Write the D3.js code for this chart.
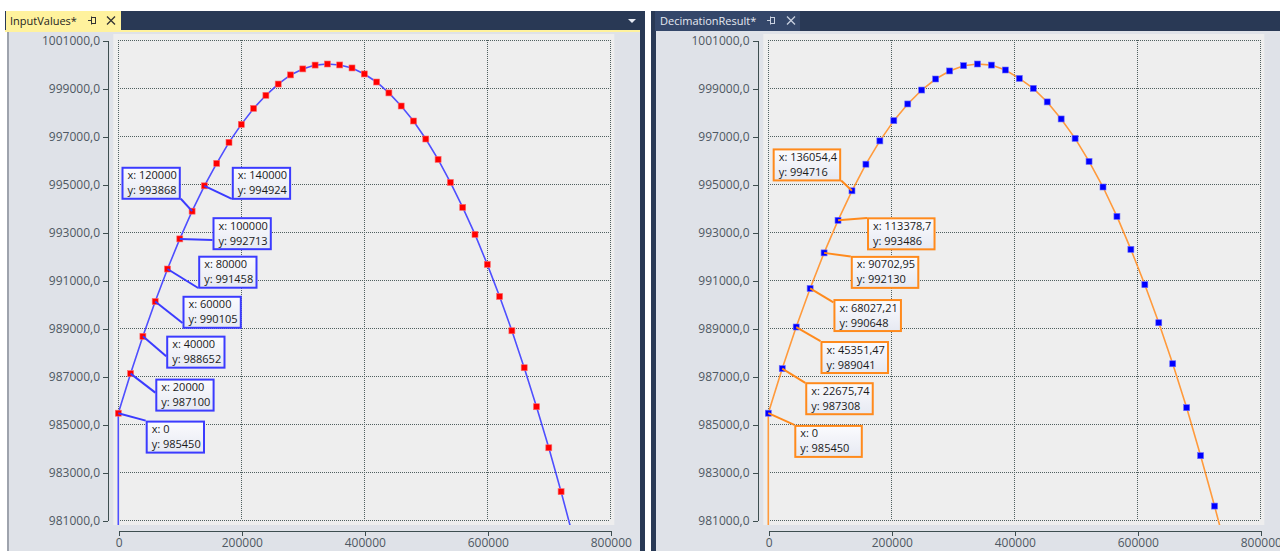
<!DOCTYPE html>
<html><head><meta charset="utf-8">
<script src="https://cdn.jsdelivr.net/npm/d3@7/dist/d3.min.js"></script>
<style>
html,body{margin:0;padding:0;background:#fff;overflow:hidden;}
svg{display:block;font-family:"Open Sans","Noto Sans",sans-serif;}
</style></head><body>
<svg id="c" width="1280" height="551"></svg>
<script>
// ---------- data ----------
const xTicks = [0, 200000, 400000, 600000, 800000];
const xTickLabels = ["0", "200000", "400000", "600000", "800000"];
const yTicks = [981000, 983000, 985000, 987000, 989000, 991000, 993000, 995000, 997000, 999000, 1001000];
const yTickLabels = ["981000,0", "983000,0", "985000,0", "987000,0", "989000,0", "991000,0", "993000,0", "995000,0", "997000,0", "999000,0", "1001000,0"];

// InputValues series (marked points)
const inputX = [0, 20000, 40000, 60000, 80000, 100000, 120000, 140000, 160000, 180000, 200000, 220000, 240000, 260000, 280000, 300000, 320000, 340000, 360000, 380000, 400000, 420000, 440000, 460000, 480000, 500000, 520000, 540000, 560000, 580000, 600000, 620000, 640000, 660000, 680000, 700000, 720000];
const inputY = [985450, 987100, 988652, 990105, 991458, 992713, 993868, 994924, 995860, 996735, 997485, 998150, 998695, 999165, 999545, 999795, 999955, 1000000, 999960, 999835, 999585, 999250, 998795, 998250, 997625, 996875, 996025, 995065, 994025, 992900, 991650, 990315, 988885, 987345, 985720, 984010, 982180];
// points of the line outside the visible range
const inputStart = [0, 975000];
const inputEnd = [740000, 980250];
const inputAnnotated = [0, 1, 2, 3, 4, 5, 6, 7];

// DecimationResult series
const decimX = [0, 22675.74, 45351.47, 68027.21, 90702.95, 113378.7, 136054.4, 158730.2, 181405.9, 204081.6, 226757.4, 249433.1, 272108.8, 294784.6, 317460.3, 340136.1, 362811.8, 385487.5, 408163.3, 430839, 453514.7, 476190.5, 498866.2, 521542, 544217.7, 566893.4, 589569.2, 612244.9, 634920.6, 657596.4, 680272.1, 702947.8, 725623.6];
const decimY = [985450, 987308, 989041, 990648, 992130, 993486, 994716, 995825, 996795, 997640, 998335, 998915, 999375, 999710, 999930, 1000000, 999955, 999750, 999400, 998985, 998420, 997710, 996900, 995940, 994875, 993650, 992275, 990805, 989220, 987510, 985680, 983680, 981580];
const decimStart = [0, 975000];
const decimEnd = [748299.3, 979380];
const decimAnnotated = [0, 1, 2, 3, 4, 5, 6];

// ---------- layout (pixels, not data) ----------
const inputAnnotLayout = [
  {dx: 27.4, dy: 7.4, ax: 0, ay: 0},
  {dx: 24.7, dy: 5, ax: 0, ay: 14},
  {dx: 23.3, dy: -0.7, ax: 0, ay: 20.7},
  {dx: 27.3, dy: -5.7, ax: 0, ay: 27.3},
  {dx: 30.7, dy: -13.3, ax: 0, ay: 32.3},
  {dx: 32.7, dy: -21.7, ax: 0, ay: 22.7},
  {dx: -70.6, dy: -44.4, ax: 59.3, ay: 32},
  {dx: 27.4, dy: -19, ax: 0, ay: 32}
];
const decimAnnotLayout = [
  {dx: 26, dy: 11.7, ax: 0, ay: 0},
  {dx: 23, dy: 13.6, ax: 0, ay: 0.7},
  {dx: 24.3, dy: 14, ax: 0, ay: 0},
  {dx: 23.3, dy: 10.6, ax: 0, ay: 3.3},
  {dx: 26.7, dy: 3, ax: 0, ay: 0.7},
  {dx: 29, dy: -3, ax: 0, ay: 0.7},
  {dx: -79.3, dy: -42.4, ax: 68.5, ay: 32}
];

const svg = d3.select("#c");
const NAVY = "#293955";

// ---------- IDE chrome ----------
svg.append("rect").attr("x", 0).attr("y", 0).attr("width", 1280).attr("height", 551).attr("fill", "#ffffff");
// left frame
svg.append("rect").attr("x", 5).attr("y", 11).attr("width", 640).attr("height", 540).attr("fill", NAVY);
svg.append("rect").attr("x", 7).attr("y", 32).attr("width", 633).attr("height", 519).attr("fill", "#DFE2E8");
svg.append("rect").attr("x", 5).attr("y", 30).attr("width", 635).attr("height", 2).attr("fill", "#FFF29D");
svg.append("rect").attr("x", 5).attr("y", 32).attr("width", 4).attr("height", 519).attr("fill", "#ffffff");
svg.append("rect").attr("x", 7).attr("y", 32).attr("width", 2).attr("height", 519).attr("fill", "#9EA3AD");
// left tab
svg.append("rect").attr("x", 6).attr("y", 11).attr("width", 115).attr("height", 21).attr("fill", "#FFF29D");
svg.append("text").attr("x", 10).attr("y", 25).attr("font-size", 11).attr("fill", "#1e1e1e").text("InputValues*");
function pin(x, y, col) {
  svg.append("line").attr("x1", x).attr("y1", y + 0.5).attr("x2", x + 3).attr("y2", y + 0.5).attr("stroke", col);
  svg.append("rect").attr("x", x + 3.5).attr("y", y - 2.5).attr("width", 4).attr("height", 6).attr("fill", "none").attr("stroke", col);
  svg.append("line").attr("x1", x + 3.5).attr("y1", y - 3.5).attr("x2", x + 3.5).attr("y2", y + 4.5).attr("stroke", col);
}
function xmark(x, y, col) {
  svg.append("path").attr("d", `M${x - 4},${y - 4}L${x + 4},${y + 4}M${x + 4},${y - 4}L${x - 4},${y + 4}`).attr("stroke", col).attr("stroke-width", 1.3);
}
pin(88, 20, "#333");
xmark(111, 20.5, "#333");
svg.append("path").attr("d", "M628,19L636,19L632,23Z").attr("fill", "#e8ecf4");

// right frame
svg.append("rect").attr("x", 651).attr("y", 11).attr("width", 629).attr("height", 540).attr("fill", NAVY);
svg.append("rect").attr("x", 656).attr("y", 31).attr("width", 624).attr("height", 520).attr("fill", "#DFE2E8");
svg.append("rect").attr("x", 655).attr("y", 11).attr("width", 145).attr("height", 20).attr("fill", "#34476A");
svg.append("text").attr("x", 660).attr("y", 25).attr("font-size", 11).attr("fill", "#E6EAF2").text("DecimationResult*");
pin(767, 20, "#C9D1E0");
xmark(791, 20.5, "#C9D1E0");

// ---------- chart panel ----------
const defs = svg.append("defs");
const grad = defs.append("linearGradient").attr("id", "boxg").attr("x1", 0).attr("y1", 0).attr("x2", 0).attr("y2", 1);
grad.append("stop").attr("offset", "0%").attr("stop-color", "#FBFBFE");
grad.append("stop").attr("offset", "100%").attr("stop-color", "#E6E9F2");

const fmtX = v => d3.format(".7~g")(v).replace(".", ",");
const fmtY = v => d3.format("d")(v);

function drawPanel(p) {
  const x = d3.scaleLinear().domain([0, 800000]).range([p.x0, p.x0 + 492]);
  const y = d3.scaleLinear().domain([981000, 1001000]).range([520, 40]);
  const g = svg.append("g");

  const bx0 = p.x0 - 5, bx1 = p.x0 + 496, by0 = 34, by1 = 525;
  g.append("rect").attr("x", bx0).attr("y", by0).attr("width", bx1 - bx0).attr("height", by1 - by0).attr("fill", "#EEEEEE");
  defs.append("clipPath").attr("id", p.id + "clip").append("rect")
    .attr("x", bx0).attr("y", by0).attr("width", bx1 - bx0).attr("height", by1 - by0);

  // dotted grid
  const grid = g.append("g").attr("stroke", "#4F5F5F").attr("stroke-width", 1).attr("stroke-dasharray", "1,1").attr("shape-rendering", "crispEdges");
  grid.selectAll("line.h").data(yTicks).join("line").attr("class", "h")
    .attr("x1", x(0)).attr("x2", x(800000)).attr("y1", d => Math.round(y(d)) + 0.5).attr("y2", d => Math.round(y(d)) + 0.5);
  grid.selectAll("line.v").data(xTicks).join("line").attr("class", "v")
    .attr("y1", y(1001000)).attr("y2", y(981000)).attr("x1", d => Math.round(x(d)) + 0.5).attr("x2", d => Math.round(x(d)) + 0.5);

  // axes
  const ya = g.append("g").attr("transform", `translate(${p.yAxisX},0.5)`)
    .call(d3.axisLeft(y).tickValues(yTicks).tickFormat((d, i) => yTickLabels[i]).tickSize(5).tickSizeOuter(0).tickPadding(3));
  const xa = g.append("g").attr("transform", `translate(0.5,530.5)`)
    .call(d3.axisBottom(x).tickValues(xTicks).tickFormat((d, i) => xTickLabels[i]).tickSize(5).tickSizeOuter(0).tickPadding(3));
  [ya, xa].forEach(a => {
    a.select(".domain").attr("stroke", "#3E4E50").attr("shape-rendering", "crispEdges");
    a.selectAll(".tick line").attr("stroke", "#3E4E50").attr("shape-rendering", "crispEdges");
    a.selectAll(".tick text").attr("fill", "#4E5862").attr("font-size", 12).attr("font-family", "'Open Sans',sans-serif");
  });

  // series
  const pts = p.xs.map((v, i) => [v, p.ys[i]]);
  const linePts = [p.start, ...pts, p.end];
  const sg = g.append("g").attr("clip-path", `url(#${p.id}clip)`);
  sg.append("path").datum(linePts).attr("fill", "none").attr("stroke", p.lineColor).attr("stroke-width", 1.6)
    .attr("d", d3.line().x(d => x(d[0])).y(d => y(d[1])));

  // annotation connectors + boxes
  const ag = g.append("g");
  p.annotated.forEach((idx, k) => {
    const L = p.layout[k];
    const mx = x(p.xs[idx]), my = y(p.ys[idx]);
    const bx = mx + L.dx, by = my + L.dy;
    ag.append("line").attr("x1", mx).attr("y1", my).attr("x2", bx + L.ax).attr("y2", by + L.ay)
      .attr("stroke", p.boxColor).attr("stroke-width", 2);
    ag.append("rect").attr("x", bx + 1).attr("y", by + 1).attr("width", p.boxW - 2).attr("height", p.boxH - 2)
      .attr("fill", "url(#boxg)").attr("stroke", p.boxColor).attr("stroke-width", 2);
    ag.append("text").attr("x", bx + 6).attr("y", by + 12.5).attr("font-size", 11).attr("fill", "#1a1a1a").text("x: " + fmtX(p.xs[idx]));
    ag.append("text").attr("x", bx + 6).attr("y", by + 27.5).attr("font-size", 11).attr("fill", "#1a1a1a").text("y: " + fmtY(p.ys[idx]));
  });

  // markers
  sg.selectAll("rect.m").data(pts).join("rect").attr("class", "m")
    .attr("x", d => x(d[0]) - 3).attr("y", d => y(d[1]) - 3).attr("width", 6).attr("height", 6)
    .attr("fill", p.markerColor).attr("stroke", p.markerStroke).attr("stroke-width", 0.6);
}

drawPanel({id: "L", x0: 118.3, yAxisX: 108, xs: inputX, ys: inputY, start: inputStart, end: inputEnd,
  annotated: inputAnnotated, layout: inputAnnotLayout, lineColor: "#4F4FFF", markerColor: "#FF0000", markerStroke: "#FF6A6A",
  boxColor: "#3B3BFF", boxW: 59.3, boxH: 33});
drawPanel({id: "R", x0: 768.3, yAxisX: 757.5, xs: decimX, ys: decimY, start: decimStart, end: decimEnd,
  annotated: decimAnnotated, layout: decimAnnotLayout, lineColor: "#FF9A3C", markerColor: "#0000FF", markerStroke: "#6A6AFF",
  boxColor: "#FF8A1C", boxW: 68.5, boxH: 33});
</script>
</body></html>
